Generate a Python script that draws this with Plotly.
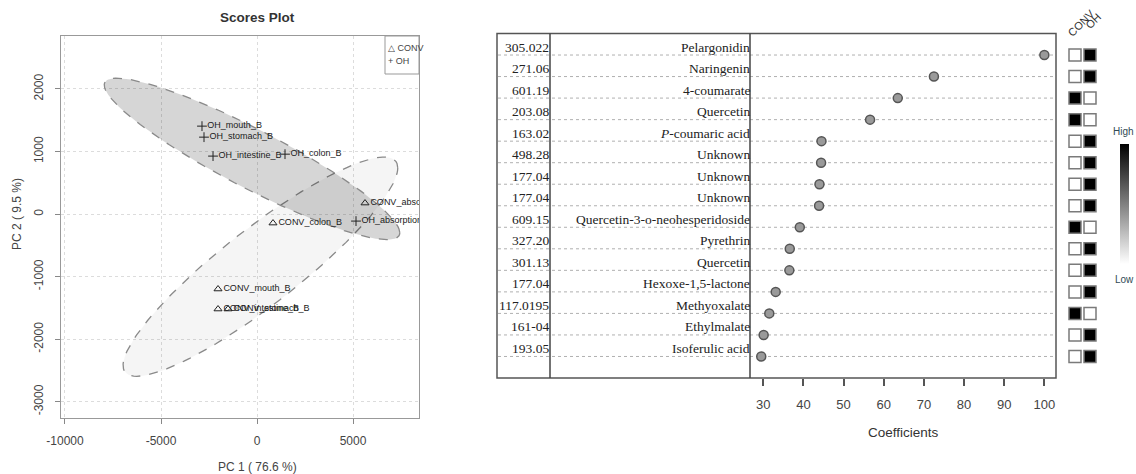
import numpy as np
import plotly.graph_objects as go

W, H = 1136, 474

# ---- PCA scores ----
samples = ["CONV_absorption_B", "CONV_colon_B", "CONV_mouth_B", "CONV_intestine_B", "CONV_stomach_B",
           "OH_mouth_B", "OH_stomach_B", "OH_intestine_B", "OH_colon_B", "OH_absorption_B"]
groups = ["CONV"] * 5 + ["OH"] * 5
pc1 = [5625, 833, -2031, -2031, -1510, -2865, -2760, -2290, 1458, 5156]
pc2 = [176, -144, -1198, -1518, -1518, 1406, 1230, 927, 958, -112]
pc1_ticks = [-10000, -5000, 0, 5000]
pc2_ticks = [-3000, -2000, -1000, 0, 1000, 2000]

# ---- Important features (coefficients) ----
mz = ["305.022", "271.06", "601.19", "203.08", "163.02", "498.28", "177.04", "177.04",
      "609.15", "327.20", "301.13", "177.04", "117.0195", "161-04", "193.05"]
compounds = ["Pelargonidin", "Naringenin", "4-coumarate", "Quercetin", "<i>P</i>-coumaric acid",
             "Unknown", "Unknown", "Unknown", "Quercetin-3-o-neohesperidoside", "Pyrethrin",
             "Quercetin", "Hexoxe-1,5-lactone", "Methyoxalate", "Ethylmalate", "Isoferulic acid"]
coefficients = [100, 72.5, 63.5, 56.6, 44.5, 44.4, 44.0, 43.9, 39.1, 36.6, 36.5, 33.1, 31.5, 30.1, 29.5]
coef_ticks = [30, 40, 50, 60, 70, 80, 90, 100]
conv_level = [0, 0, 1, 1, 0, 0, 0, 0, 1, 0, 0, 0, 1, 0, 0]
oh_level = [1, 1, 0, 0, 1, 1, 1, 1, 0, 1, 1, 1, 0, 1, 1]
heat_cols = ["CONV", "OH"]


def px_x(p):
    return p / W


def px_y(p):
    return 1 - p / H


def conf_ellipse(x, y, level_t=np.sqrt(-2 * np.log(0.05)), n=120):
    pts = np.vstack([x, y]).astype(float)
    mu = pts.mean(axis=1)
    cov = np.cov(pts, bias=True)
    L = np.linalg.cholesky(cov)
    t = np.linspace(0, 2 * np.pi, n)
    circ = np.vstack([np.cos(t), np.sin(t)])
    e = mu[:, None] + level_t * (L @ circ)
    return e[0], e[1]


def r_label(v):
    # plain ASCII hyphen for negatives, as base R prints them
    return str(int(v))


fig = go.Figure()

pc1 = np.array(pc1)
pc2 = np.array(pc2)
grp = np.array(groups)

# 95% confidence ellipses (CONV underneath, OH on top)
ell_fill = {"CONV": "rgba(0,0,0,0.04)", "OH": "rgba(0,0,0,0.16)"}
for g in ["CONV", "OH"]:
    m = grp == g
    ex, ey = conf_ellipse(pc1[m], pc2[m])
    fig.add_trace(go.Scatter(x=ex, y=ey, mode="lines", fill="toself",
                             fillcolor=ell_fill[g],
                             line=dict(color="#8a8a8a", width=1.3, dash="dash"),
                             hoverinfo="skip", showlegend=False,
                             xaxis="x", yaxis="y"))

symbols = {"CONV": "triangle-up-open", "OH": "cross-thin-open"}
sizes = {"CONV": 7, "OH": 7}
for g in ["CONV", "OH"]:
    m = grp == g
    fig.add_trace(go.Scatter(
        x=pc1[m], y=pc2[m], mode="markers+text",
        text=[s for s, k in zip(samples, m) if k],
        textposition="middle right",
        textfont=dict(family="Liberation Sans", size=9, color="#1a1a1a"),
        marker=dict(symbol=symbols[g], size=sizes[g], color="#222",
                    line=dict(width=1, color="#222")),
        cliponaxis=True, showlegend=False, name=g,
        xaxis="x", yaxis="y"))

# coefficient dots
rows = np.arange(1, len(mz) + 1)
fig.add_trace(go.Scatter(
    x=coefficients, y=rows, mode="markers",
    marker=dict(symbol="circle", size=9, color="#9a9a9a",
                line=dict(color="#555", width=1.5)),
    showlegend=False, xaxis="x2", yaxis="y2", cliponaxis=False))

# group-level squares
for ci, (col, lev) in enumerate(zip(heat_cols, [conv_level, oh_level])):
    fig.add_trace(go.Scatter(
        x=[ci + 1] * len(rows), y=rows, mode="markers",
        marker=dict(symbol="square", size=12, color=lev,
                    colorscale=[[0, "white"], [1, "black"]], cmin=0, cmax=1,
                    line=dict(color="#7a7a7a", width=1.5),
                    showscale=(ci == 0),
                    colorbar=dict(x=px_x(1120), xanchor="left",
                                  y=px_y(144), yanchor="top",
                                  len=120 / H, lenmode="fraction",
                                  thickness=9, outlinewidth=0, xpad=0, ypad=0,
                                  showticklabels=False, ticks="")),
        showlegend=False, xaxis="x3", yaxis="y3", cliponaxis=False))

axis_font = dict(family="Liberation Sans", size=12, color="#444")

fig.update_layout(
    width=W, height=H,
    margin=dict(l=0, r=0, t=0, b=0, autoexpand=False),
    paper_bgcolor="white", plot_bgcolor="white",
    xaxis=dict(domain=[px_x(61), px_x(419)], range=[-10208, 8437],
               tickvals=pc1_ticks, ticktext=[r_label(v) for v in pc1_ticks],
               ticks="outside", ticklen=5,
               tickcolor="#888", tickfont=axis_font, ticklabelstandoff=7,
               showline=True, mirror=True, linecolor="#999", linewidth=1,
               showgrid=True, gridcolor="#dcdcdc", griddash="dot",
               zeroline=False, anchor="y"),
    yaxis=dict(domain=[px_y(418), px_y(36)], range=[-3260, 2847],
               tickvals=pc2_ticks, ticktext=[r_label(v) for v in pc2_ticks],
               ticks="outside",
               ticklen=5, tickcolor="#888", tickfont=axis_font, tickangle=-90,
               ticklabelstandoff=7,
               showline=True, mirror=True, linecolor="#999", linewidth=1,
               showgrid=True, gridcolor="#dcdcdc", griddash="dot",
               zeroline=False, anchor="x"),
    xaxis2=dict(domain=[px_x(750), px_x(1056)], range=[26.7, 102.9],
                tickvals=coef_ticks, ticks="outside", ticklen=7,
                tickcolor="#555", tickwidth=1.5,
                tickfont=dict(family="Liberation Sans", size=13, color="#444"),
                ticklabelstandoff=7,
                showline=False, showgrid=False, zeroline=False, anchor="y2"),
    yaxis2=dict(domain=[px_y(378), px_y(33.5)], range=[16, 0],
                showticklabels=False, ticks="", showgrid=False,
                showline=False, zeroline=False, anchor="x2"),
    xaxis3=dict(domain=[px_x(1067.5), px_x(1097.5)], range=[0.5, 2.5],
                visible=False, anchor="y3"),
    yaxis3=dict(domain=[px_y(378), px_y(33.5)], range=[16, 0],
                visible=False, anchor="x3"),
)

shapes = []
# table frame and dividers
shapes.append(dict(type="rect", xref="paper", yref="paper",
                   x0=px_x(497), x1=px_x(1056), y0=px_y(378), y1=px_y(33.5),
                   line=dict(color="#555", width=1.5)))
for xd in (550, 750):
    shapes.append(dict(type="line", xref="paper", yref="paper",
                       x0=px_x(xd), x1=px_x(xd), y0=px_y(378), y1=px_y(33.5),
                       line=dict(color="#444", width=1.5)))
# dotted row guides
for r in rows:
    shapes.append(dict(type="line", xref="paper", yref="y2",
                       x0=px_x(498), x1=px_x(1055), y0=r, y1=r,
                       line=dict(color="#b0b0b0", width=1, dash="dot"),
                       layer="below"))
# scores legend box
shapes.append(dict(type="rect", xref="paper", yref="paper",
                   x0=px_x(385), x1=px_x(419), y0=px_y(74), y1=px_y(36),
                   line=dict(color="#999", width=1), fillcolor="white"))
fig.update_layout(shapes=shapes)

ann = []
serif = dict(family="Liberation Serif", size=13.5, color="#222")
for r, m_, c_ in zip(rows, mz, compounds):
    ann.append(dict(x=px_x(550), y=r, xref="paper", yref="y2", text=m_,
                    xanchor="right", yanchor="middle", yshift=8,
                    showarrow=False, font=serif, borderpad=0))
    ann.append(dict(x=px_x(750.5), y=r, xref="paper", yref="y2", text=c_,
                    xanchor="right", yanchor="middle", yshift=8,
                    showarrow=False, font=serif, borderpad=0))

small = dict(family="Liberation Sans", size=9, color="#444")
ann += [
    dict(x=px_x(257), y=px_y(17), xref="paper", yref="paper", text="<b>Scores Plot</b>",
         xanchor="center", yanchor="middle", showarrow=False,
         font=dict(family="Liberation Sans", size=13.5, color="#333")),
    dict(x=px_x(257), y=px_y(467), xref="paper", yref="paper", text="PC 1 ( 76.6 %)",
         xanchor="center", yanchor="middle", showarrow=False, font=axis_font),
    dict(x=px_x(17), y=px_y(214), xref="paper", yref="paper", text="PC 2 ( 9.5 %)",
         xanchor="center", yanchor="middle", textangle=-90, showarrow=False, font=axis_font),
    dict(x=px_x(387), y=px_y(48), xref="paper", yref="paper", text="\u25b3 CONV",
         xanchor="left", yanchor="middle", showarrow=False, font=small, borderpad=0),
    dict(x=px_x(387), y=px_y(61), xref="paper", yref="paper", text="+ OH",
         xanchor="left", yanchor="middle", showarrow=False, font=small, borderpad=0),
    dict(x=px_x(903), y=px_y(432), xref="paper", yref="paper", text="Coefficients",
         xanchor="center", yanchor="middle", showarrow=False,
         font=dict(family="Liberation Sans", size=13.5, color="#333")),
    dict(x=px_x(1123), y=px_y(132), xref="paper", yref="paper", text="High",
         xanchor="center", yanchor="middle", showarrow=False,
         font=dict(family="Liberation Sans", size=10, color="#2f4a55")),
    dict(x=px_x(1124), y=px_y(279), xref="paper", yref="paper", text="Low",
         xanchor="center", yanchor="middle", showarrow=False,
         font=dict(family="Liberation Sans", size=10, color="#2f4a55")),
    dict(x=px_x(1081), y=px_y(23), xref="paper", yref="paper", text="CONV",
         xanchor="center", yanchor="middle", textangle=-45, showarrow=False,
         font=dict(family="Liberation Sans", size=11, color="#333")),
    dict(x=px_x(1093), y=px_y(21), xref="paper", yref="paper", text="OH",
         xanchor="center", yanchor="middle", textangle=-45, showarrow=False,
         font=dict(family="Liberation Sans", size=11, color="#333")),
]
fig.update_layout(annotations=ann)

fig.write_html("out.html")
